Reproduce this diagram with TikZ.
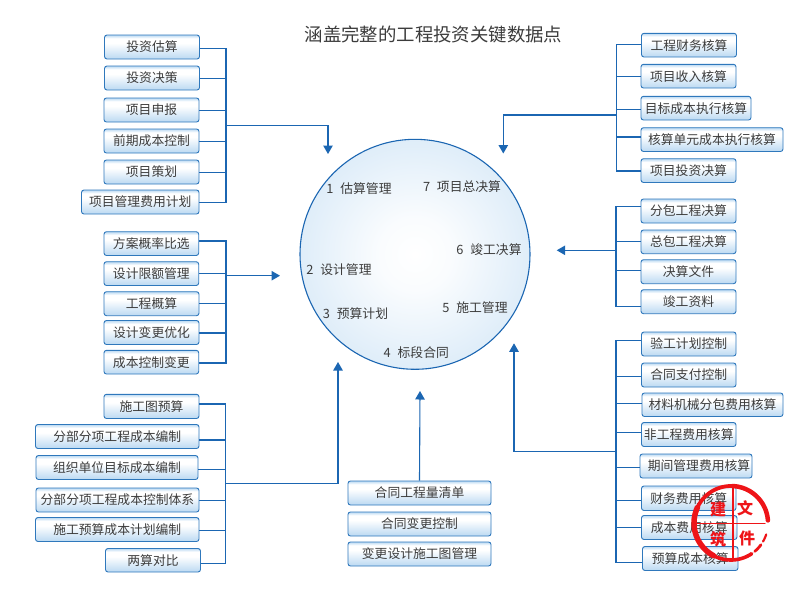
\documentclass[tikz,border=0pt]{standalone}
\usepackage{fontspec}
\setmainfont{Noto Sans CJK SC}
\usetikzlibrary{arrows.meta,calc}
\definecolor{linkblue}{HTML}{1B66B2}
\definecolor{boxedge}{HTML}{2F78BC}
\definecolor{boxlow}{HTML}{BBD9F2}
\definecolor{txt}{HTML}{3C3C3C}
\definecolor{seal}{HTML}{EE1418}
\pgfdeclareradialshading{discshade}{\pgfpointorigin}{color(0bp)=(white); color(8bp)=(white!92!boxlow); color(24bp)=(white!55!boxlow); color(50bp)=(boxlow)}
\pgfdeclareverticalshading{boxshade}{100bp}{color(0bp)=(boxlow); color(25bp)=(boxlow); color(58bp)=(white); color(68bp)=(white); color(75bp)=(boxlow); color(100bp)=(boxlow)}
\tikzset{
  itembox/.style={draw=boxedge,line width=0.9pt,rounded corners=2.5pt,shading=boxshade,shading angle=0,text=txt,font=\fontsize{12.8}{14}\selectfont,inner sep=0pt,anchor=center},
  bus/.style={draw=linkblue,line width=1.1pt},
  feed/.style={draw=linkblue,line width=1.1pt,-{Triangle[length=8.5pt,width=9.5pt]}},
  disclabel/.style={text=txt,font=\fontsize{12.8}{14}\selectfont,inner sep=0pt},
  sealchar/.style={text=seal,font=\fontsize{16}{16}\bfseries\selectfont,inner sep=0pt},
  sealring/.style={seal,line cap=round},
}
\newcommand{\itm}[6]{\node[itembox,minimum width={(#4-#2)*1pt},minimum height={(#5-#3)*1pt}] (#1) at ({(#2+#4)/2},{(#3+#5)/2}) {#6};}
\newcommand{\nm}[1]{\makebox[14pt][l]{#1}}
\newcommand{\sealarc}[3]{\draw[sealring,line width=#3pt] plot[domain=#1:#2,samples=25,smooth] ({731+37*cos(\x)},{523+37*sin(\x)});}
\begin{document}
\begin{tikzpicture}[x=1pt,y=-1pt]
\useasboundingbox (0,0) rectangle (812,606);
\node[text=txt,font=\fontsize{18.4}{20}\selectfont,inner sep=0pt] (title) at (433.5,34) {涵盖完整的工程投资关键数据点};
% hub
\node[circle,draw=linkblue,line width=1.1pt,minimum size=230pt,inner sep=0pt,shading=discshade] (hub) at (415,254.3) {};
\node[disclabel] (d1) at (359,188.3) {\nm{1}估算管理};
\node[disclabel] (d7) at (462,186.7) {\nm{7}项目总决算};
\node[disclabel] (d6) at (489,249.3) {\nm{6}竣工决算};
\node[disclabel] (d2) at (339,269.3) {\nm{2}设计管理};
\node[disclabel] (d3) at (355.5,314) {\nm{3}预算计划};
\node[disclabel] (d5) at (475,307.7) {\nm{5}施工管理};
\node[disclabel] (d4) at (416.3,353) {\nm{4}标段合同};
% group A
\itm{a1}{104.5}{35}{199.5}{59}{投资估算}
\itm{a2}{104.5}{66}{199.5}{90}{投资决策}
\itm{a3}{104}{98}{199}{122}{项目申报}
\itm{a4}{104}{129}{199}{153}{前期成本控制}
\itm{a5}{104}{160}{199}{184}{项目策划}
\itm{a6}{81.5}{190}{199}{214}{项目管理费用计划}
\coordinate (abus) at (226,125.7);
\coordinate (aend) at (328,154);
\foreach \n/\y in {a1/48.3,a2/78.7,a3/110.7,a4/141.7,a5/172.7,a6/202.7} \draw[bus] (\n.east |- 0,\y) -- (abus |- 0,\y);
\draw[bus,line cap=rect] (abus |- 0,48.3) -- (abus |- 0,202.7);
\draw[feed] (abus) -| (aend);
% group B
\itm{b1}{104}{231.7}{198.7}{255.5}{方案概率比选}
\itm{b2}{104}{261.7}{198.7}{285.5}{设计限额管理}
\itm{b3}{104}{291.7}{199}{315.7}{工程概算\hspace{8pt}}
\itm{b4}{104}{320.5}{199}{344.5}{设计变更优化}
\itm{b5}{104}{350.3}{198.7}{374}{成本控制变更}
\coordinate (bbus) at (226,275.7);
\coordinate (bend) at (280,275.7);
\foreach \n/\y in {b1/241,b2/273.7,b3/303.7,b4/333,b5/363} \draw[bus] (\n.east |- 0,\y) -- (bbus |- 0,\y);
\draw[bus,line cap=rect] (bbus |- 0,241) -- (bbus |- 0,363);
\draw[feed] (bbus) -- (bend);
% group C
\itm{c1}{104}{394.3}{199}{418.5}{施工图预算}
\itm{c2}{35.5}{424.5}{199}{448.5}{分部分项工程成本编制}
\itm{c3}{36}{455.5}{198}{479.5}{组织单位目标成本编制}
\itm{c4}{36}{488}{199}{512}{分部分项工程成本控制体系}
\itm{c5}{35.5}{517.5}{199}{541.5}{施工预算成本计划编制}
\itm{c6}{105.5}{548.5}{200.5}{572}{两算对比}
\coordinate (cbus) at (225.5,483.7);
\coordinate (cend) at (338,362);
\foreach \n/\y in {c1/404,c2/440,c3/469.7,c4/500.7,c5/530.7,c6/563.7} \draw[bus] (\n.east |- 0,\y) -- (cbus |- 0,\y);
\draw[bus,line cap=rect] (cbus |- 0,404) -- (cbus |- 0,563.7);
\draw[feed] (cbus) -| (cend);
% group D
\itm{d01}{348}{481}{491}{505}{合同工程量清单}
\itm{d02}{348}{512}{491}{536}{合同变更控制}
\itm{d03}{348}{542}{491}{566}{变更设计施工图管理}
\coordinate (dend) at (420,391);
\draw[feed] (d01.north) -- (dend);
% group E
\itm{e1}{641.5}{33.3}{736.5}{57}{工程财务核算}
\itm{e2}{641}{64.3}{736}{88}{项目收入核算}
\itm{e3}{641}{96.3}{751}{120}{目标成本执行核算}
\itm{e4}{641}{127.7}{783}{151.5}{核算单元成本执行核算}
\itm{e5}{641}{158.7}{736}{182.5}{项目投资决算}
\coordinate (ebus) at (616.5,115);
\coordinate (eend) at (503.3,153.5);
\foreach \n/\y in {e1/44.3,e2/76.7,e3/109.7,e4/137,e5/171} \draw[bus] (\n.west |- 0,\y) -- (ebus |- 0,\y);
\draw[bus,line cap=rect] (ebus |- 0,44.3) -- (ebus |- 0,171);
\draw[feed] (ebus) -| (eend);
% group F
\itm{f1}{641}{199}{736}{223}{分包工程决算}
\itm{f2}{641}{230}{736}{253.7}{总包工程决算}
\itm{f3}{641}{259.7}{736}{283.7}{决算文件}
\itm{f4}{641}{289.7}{736}{313.7}{竣工资料}
\coordinate (fbus) at (616,250.3);
\coordinate (fend) at (556.7,250.3);
\foreach \n/\y in {f1/206.7,f2/241.7,f3/270.3,f4/306.7} \draw[bus] (\n.west |- 0,\y) -- (fbus |- 0,\y);
\draw[bus,line cap=rect] (fbus |- 0,206.7) -- (fbus |- 0,306.7);
\draw[feed] (fbus) -- (fend);
% group G
\itm{g1}{641.5}{332}{736}{356}{验工计划控制}
\itm{g2}{641.5}{363}{736}{387}{合同支付控制}
\itm{g3}{642}{393}{783}{416.5}{材料机械分包费用核算}
\itm{g4}{641.5}{422.5}{736}{446.5}{非工程费用核算}
\itm{g5}{640}{454}{752}{478}{\hspace{6pt}期间管理费用核算}
\itm{g6}{641.5}{486}{736}{510.5}{财务费用核算}
\itm{g7}{641.5}{515.5}{737}{539.5}{成本费用核算}
\itm{g8}{642.5}{546.5}{738}{570.5}{预算成本核算}
\coordinate (gbus) at (616,451.7);
\coordinate (gend) at (514,343.3);
\foreach \n/\y in {g1/340.7,g2/376.3,g3/403.7,g4/432.7,g5/467.7,g6/500.7,g7/527.7,g8/562.3} \draw[bus] (\n.west |- 0,\y) -- (gbus |- 0,\y);
\draw[bus,line cap=rect] (gbus |- 0,340.7) -- (gbus |- 0,562.3);
\draw[feed] (gbus) -| (gend);
% seal
\sealarc{-88}{-4}{4.5}
\sealarc{18}{30}{2.2}
\sealarc{36}{50}{2.8}
\sealarc{56}{118}{3.6}
\sealarc{118}{205}{5.5}
\sealarc{205}{272}{3.8}
\draw[sealring,line width=1.3pt] (733,488) -- (733,558);
\draw[sealring,line width=1.3pt] (696,523.5) -- (765,523.5);
\node[sealchar] (s1) at (718,509) {建};
\node[sealchar] (s2) at (745,508) {文};
\node[sealchar] (s3) at (718,539) {筑};
\node[sealchar] (s4) at (747,538) {件};
\end{tikzpicture}
\end{document}
